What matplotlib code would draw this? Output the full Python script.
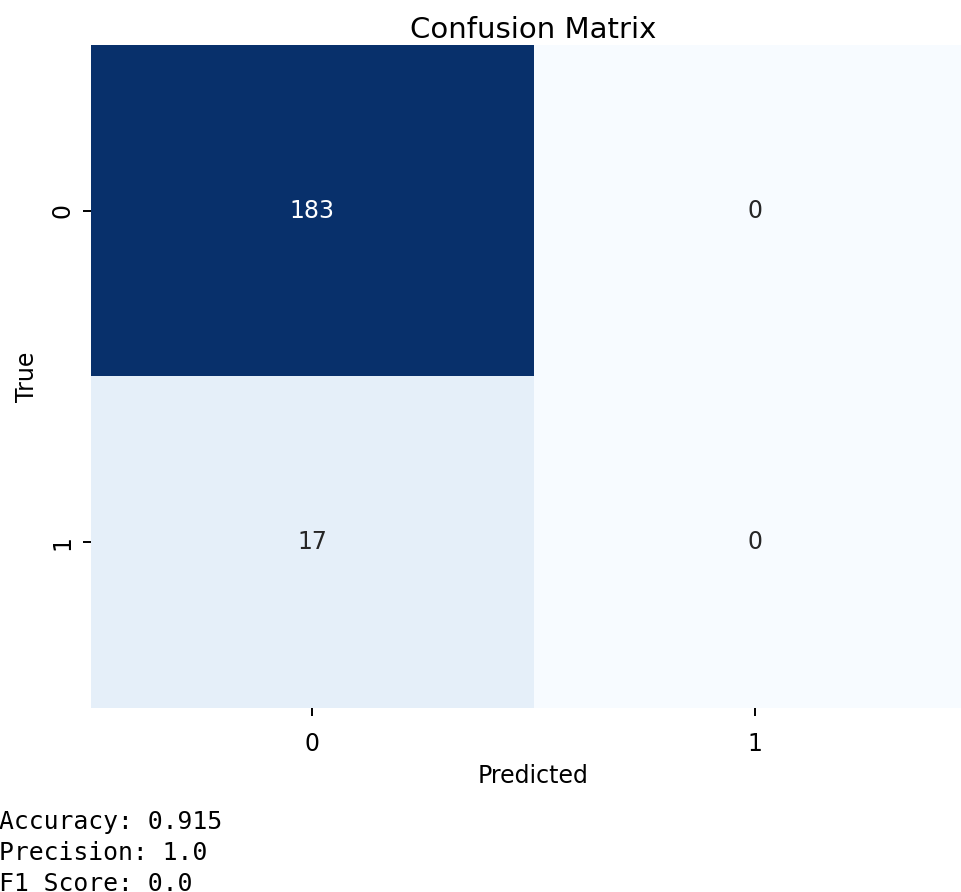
import numpy as np
import matplotlib
matplotlib.use("Agg")
import matplotlib.pyplot as plt
import seaborn as sns

# confusion matrix counts (rows = true, cols = predicted)
labels = ["0", "1"]
cm = np.array([[183, 0],
               [17, 0]])

accuracy = 0.915
precision = 1.0
f1 = 0.0

fig = plt.figure(figsize=(9.62, 8.92), dpi=100)
ax = fig.add_axes([0.0946, 0.2063, 0.92, 0.7433])

sns.heatmap(cm, annot=True, fmt="d", cmap="Blues", cbar=False,
            xticklabels=labels, yticklabels=labels, ax=ax,
            annot_kws={"fontsize": 17})
ax.set_title("Confusion Matrix", fontsize=21, pad=5)
ax.set_xlabel("Predicted", fontsize=17, labelpad=6)
ax.set_ylabel("True", fontsize=17, labelpad=8)
ax.tick_params(axis="x", labelsize=17, length=6, width=1.4, pad=11)
ax.tick_params(axis="y", labelsize=17, length=6, width=1.4, pad=6)

# printed metrics under the plot
report = f"Accuracy: {accuracy}\nPrecision: {precision}\nF1 Score: {f1}"
fig.text(-0.001, -0.005, report, family="DejaVu Sans Mono", fontsize=17.8,
         ha="left", va="bottom", linespacing=1.38)

fig.savefig("out.png", dpi=100)
